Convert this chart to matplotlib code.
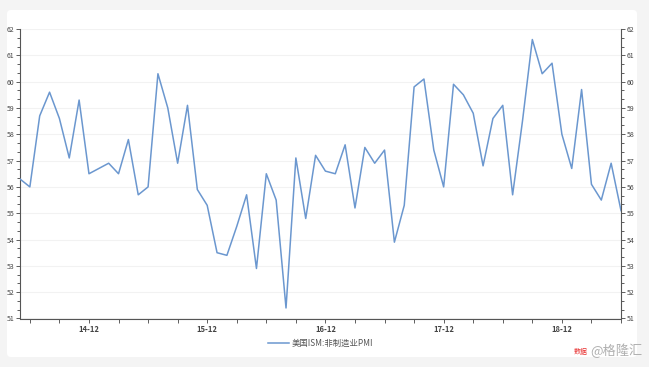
import matplotlib
matplotlib.use("Agg")
import matplotlib.pyplot as plt
from matplotlib.patches import FancyBboxPatch
import numpy as np

plt.rcParams['font.family'] = ['Noto Sans CJK SC', 'DejaVu Sans']

series_name = "美国ISM:非制造业PMI"
start_month = "2014-05"
pmi = [56.3, 56.0, 58.7, 59.6, 58.6, 57.1, 59.3, 56.5,
       56.7, 56.9, 56.5, 57.8, 55.7, 56.0, 60.3, 59.0, 56.9, 59.1, 55.9, 55.3,
       53.5, 53.4, 54.5, 55.7, 52.9, 56.5, 55.5, 51.4, 57.1, 54.8, 57.2, 56.6,
       56.5, 57.6, 55.2, 57.5, 56.9, 57.4, 53.9, 55.3, 59.8, 60.1, 57.4, 56.0,
       59.9, 59.5, 58.8, 56.8, 58.6, 59.1, 55.7, 58.5, 61.6, 60.3, 60.7, 58.0,
       56.7, 59.7, 56.1, 55.5, 56.9, 55.1]
tick_labels = ["14-12", "15-12", "16-12", "17-12", "18-12"]
tick_idx = [7, 19, 31, 43, 55]
yticks = list(range(51, 63))

W, H = 649, 367
fig = plt.figure(figsize=(W/100, H/100), dpi=100)
fig.patch.set_facecolor('#f4f4f4')

bg = fig.add_axes([0, 0, 1, 1], zorder=0)
bg.set_xlim(0, W)
bg.set_ylim(H, 0)
bg.axis('off')
bg.add_patch(FancyBboxPatch((7, 10), 630, 347, boxstyle="round,pad=0,rounding_size=4",
                            facecolor='white', edgecolor='none'))

ax = fig.add_axes([20/W, 1-318.5/H, (621-20)/W, (318.5-29)/H], zorder=2)
ax.set_facecolor('none')
x = np.arange(len(pmi))
ax.plot(x, pmi, color='#6b97cf', lw=1.1, zorder=3)
ax.set_xlim(0, len(pmi)-1)
ax.set_ylim(51, 62)

ax.spines['top'].set_visible(False)
for s in ['left', 'right', 'bottom']:
    ax.spines[s].set_color('#555555')
    ax.spines[s].set_linewidth(0.8)

ax.set_yticks(yticks)
ax.set_yticks(np.arange(51, 62.01, 1/3), minor=True)
ax.tick_params(axis='y', which='both', left=True, right=True, labelleft=True, labelright=True,
               labelsize=5, colors='#444444', length=3, width=0.6, pad=1)
ax.tick_params(axis='y', which='minor', length=2)
ax.set_xticks(tick_idx)
ax.set_xticklabels(tick_labels)
ax.set_xticks(np.arange(1, len(pmi), 3), minor=True)
ax.tick_params(axis='x', which='both', labelsize=5.5, colors='#444444', length=3, width=0.6, pad=2)
for t in ax.get_xticklabels():
    t.set_fontweight('bold')
ax.grid(axis='y', color='#f2f2f2', lw=0.8, zorder=0)

leg = ax.legend([series_name], loc='upper center', bbox_to_anchor=(0.5, -0.045), frameon=False,
                fontsize=6, handlelength=2.5, handletextpad=0.3)
for t in leg.get_texts():
    t.set_color('#555555')

fig.text(574/W, 1-352/H, "数据", fontsize=5, color='#e83030', style='italic', ha='left', va='center')
fig.text(590/W, 1-351/H, "@格隆汇", fontsize=9.5, color='#b0b0b0', ha='left', va='center')

fig.savefig("out.png", dpi=100, facecolor=fig.get_facecolor())
